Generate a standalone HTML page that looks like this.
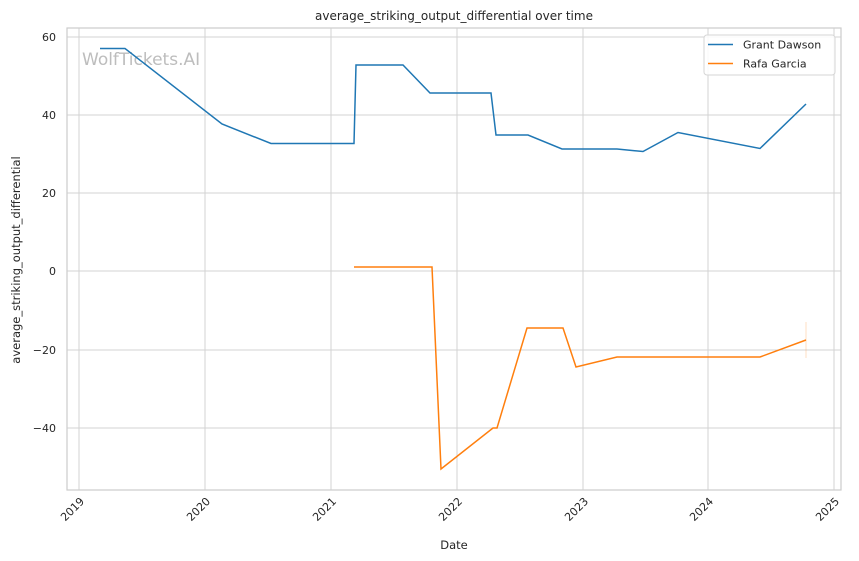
<!DOCTYPE html>
<html><head><meta charset="utf-8"><style>body{margin:0;background:#fff}svg{display:block}</style></head><body>
<svg width="859" height="561" xmlns="http://www.w3.org/2000/svg" font-family="'DejaVu Sans','Liberation Sans',sans-serif">
<rect width="859" height="561" fill="#fff"/>
<g stroke="#d3d3d3" stroke-width="1">
<line x1="79" y1="28" x2="79" y2="490"/><line x1="205" y1="28" x2="205" y2="490"/><line x1="331" y1="28" x2="331" y2="490"/><line x1="457" y1="28" x2="457" y2="490"/><line x1="583" y1="28" x2="583" y2="490"/><line x1="708" y1="28" x2="708" y2="490"/><line x1="834" y1="28" x2="834" y2="490"/>
<line x1="67" y1="37" x2="841" y2="37"/><line x1="67" y1="115" x2="841" y2="115"/><line x1="67" y1="193" x2="841" y2="193"/><line x1="67" y1="271" x2="841" y2="271"/><line x1="67" y1="350" x2="841" y2="350"/><line x1="67" y1="428" x2="841" y2="428"/>
</g>
<rect x="67" y="28" width="774" height="462" fill="none" stroke="#cccccc" stroke-width="1.2"/>
<text x="82" y="65" font-size="17" fill="#bdbdbd">WolfTickets.AI</text>
<polyline fill="none" stroke="#1f77b4" stroke-width="1.5" points="100,48.5 125,48.5 222,124 271,143.5 354,143.5 356,65 403,65 430,93 491,93 496,135 528,135 562,149 617,149 643,151.5 678,132.5 760,148.5 806,104"/>
<line x1="806" y1="322" x2="806" y2="358" stroke="#ff7f0e" stroke-opacity="0.25" stroke-width="1"/>
<polyline fill="none" stroke="#ff7f0e" stroke-width="1.5" points="354,267 432,267 441,469 493,428 497,428 527,328 563,328 576,367 617,357 760,357 806,340"/>
<g font-size="11" fill="#262626" text-anchor="end">
<text x="56" y="41">60</text><text x="56" y="119">40</text><text x="56" y="197">20</text><text x="56" y="275">0</text><text x="56" y="354">−20</text><text x="56" y="432">−40</text>
</g>
<g font-size="11" fill="#262626" text-anchor="end">
<text transform="translate(85,502) rotate(-45)">2019</text><text transform="translate(211,502) rotate(-45)">2020</text><text transform="translate(337,502) rotate(-45)">2021</text><text transform="translate(463,502) rotate(-45)">2022</text><text transform="translate(589,502) rotate(-45)">2023</text><text transform="translate(714,502) rotate(-45)">2024</text><text transform="translate(840,502) rotate(-45)">2025</text>
</g>
<text x="454" y="549" font-size="11.5" fill="#262626" text-anchor="middle">Date</text>
<text transform="translate(20,260) rotate(-90)" font-size="11.5" fill="#262626" text-anchor="middle">average_striking_output_differential</text>
<text x="454" y="20" font-size="12" fill="#262626" text-anchor="middle">average_striking_output_differential over time</text>
<rect x="704" y="35" width="131" height="40" rx="3" fill="#fff" fill-opacity="0.85" stroke="#d6d6d6"/>
<line x1="708" y1="44.5" x2="733" y2="44.5" stroke="#1f77b4" stroke-width="1.5"/>
<line x1="708" y1="63.5" x2="733" y2="63.5" stroke="#ff7f0e" stroke-width="1.5"/>
<g font-size="11" fill="#262626"><text x="743" y="48.5">Grant Dawson</text><text x="743" y="67.5">Rafa Garcia</text></g>
</svg>
</body></html>
